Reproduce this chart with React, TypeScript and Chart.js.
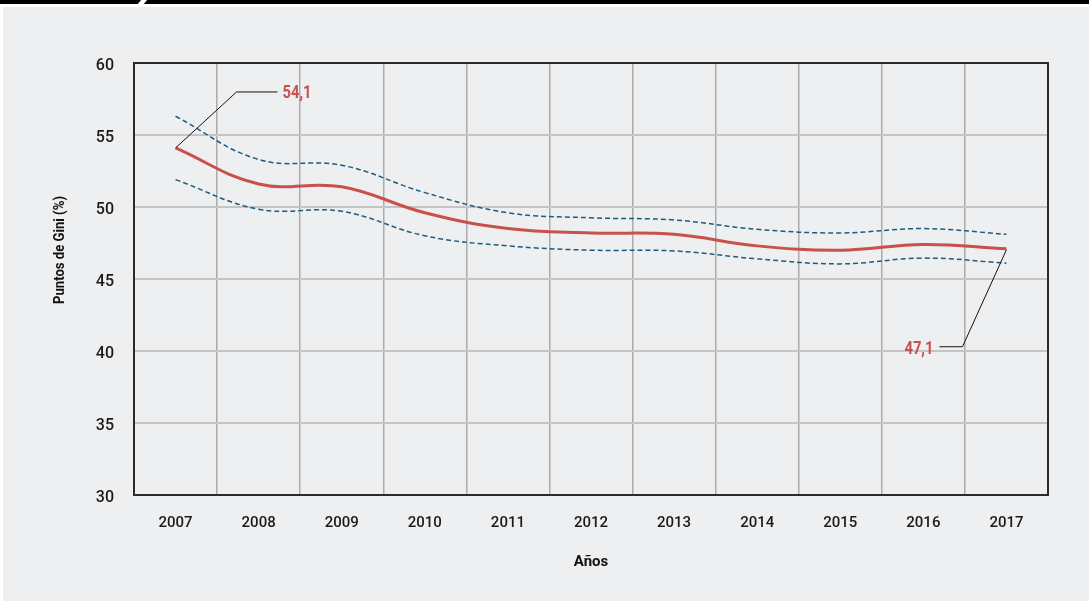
import React, { useEffect, useRef } from "react";
import { Chart, registerables } from "chart.js";

Chart.register(...registerables);

const years = ["2007", "2008", "2009", "2010", "2011", "2012", "2013", "2014", "2015", "2016", "2017"];
const gini = [54.1, 51.6, 51.4, 49.6, 48.5, 48.2, 48.1, 47.3, 47.0, 47.4, 47.1];
const upperBound = [56.3, 53.3, 52.9, 51.0, 49.6, 49.25, 49.1, 48.45, 48.2, 48.5, 48.1];
const lowerBound = [51.9, 49.85, 49.7, 48.0, 47.3, 47.0, 46.95, 46.4, 46.05, 46.45, 46.1];
const yTitle = "Puntos de Gini (%)";
const xTitle = "Años";

const FONT = 'Roboto, "DejaVu Sans Condensed", sans-serif';
const RED = "#c9514c";
const BLUE = "#1d5c7e";

const fmt = (v: number) => v.toFixed(1).replace(".", ",");

const decorPlugin = {
  id: "decor",
  afterDatasetsDraw(chart: any) {
    const { ctx, chartArea } = chart;
    ctx.save();
    // frame
    ctx.strokeStyle = "#2b2b2b";
    ctx.lineWidth = 2;
    ctx.strokeRect(chartArea.left, chartArea.top, chartArea.right - chartArea.left, chartArea.bottom - chartArea.top);

    // y title
    ctx.save();
    ctx.translate(60, 250);
    ctx.rotate(-Math.PI / 2);
    ctx.font = `bold 15px ${FONT}`;
    const w = ctx.measureText(yTitle).width;
    ctx.scale(Math.min(1, 108 / w), 1);
    ctx.fillStyle = "#111";
    ctx.textAlign = "center";
    ctx.textBaseline = "middle";
    ctx.fillText(yTitle, 0, 0);
    ctx.restore();

    // annotations
    const meta = chart.getDatasetMeta(0);
    const first = meta.data[0];
    const last = meta.data[meta.data.length - 1];
    ctx.strokeStyle = "#111";
    ctx.lineWidth = 1;

    const drawLabel = (text: string, x: number, y: number, align: string) => {
      ctx.save();
      ctx.translate(x, y);
      ctx.scale(0.82, 1);
      ctx.font = `bold 18px ${FONT}`;
      ctx.fillStyle = RED;
      ctx.textBaseline = "middle";
      ctx.textAlign = align;
      ctx.fillText(text, 0, 0);
      ctx.restore();
    };

    // first
    {
      const ex = first.x + 61, ey = first.y - 56;
      ctx.beginPath();
      ctx.moveTo(first.x, first.y);
      ctx.lineTo(ex, ey);
      ctx.lineTo(ex + 41, ey);
      ctx.stroke();
      drawLabel(fmt(gini[0]), ex + 46, ey + 2, "left");
    }
    // last
    {
      const ex = last.x - 44, ey = last.y + 98;
      ctx.beginPath();
      ctx.moveTo(last.x, last.y + 1);
      ctx.lineTo(ex, ey);
      ctx.lineTo(ex - 23, ey);
      ctx.stroke();
      drawLabel(fmt(gini[gini.length - 1]), ex - 29, ey + 3, "right");
    }
    ctx.restore();
  },
};

export default function App() {
  const ref = useRef<HTMLCanvasElement>(null);
  useEffect(() => {
    if (!ref.current) return;
    const chart = new Chart(ref.current, {
      type: "line",
      data: {
        labels: years,
        datasets: [
          {
            data: gini,
            borderColor: RED,
            borderWidth: 3,
            pointRadius: 0,
            tension: 0.4,
            fill: false,
          },
          {
            data: upperBound,
            borderColor: BLUE,
            borderWidth: 1.5,
            borderDash: [5, 3],
            pointRadius: 0,
            tension: 0.4,
            fill: false,
          },
          {
            data: lowerBound,
            borderColor: BLUE,
            borderWidth: 1.5,
            borderDash: [5, 3],
            pointRadius: 0,
            tension: 0.4,
            fill: false,
          },
        ],
      },
      options: {
        animation: false,
        responsive: false,
        devicePixelRatio: 1,
        layout: { padding: { left: 0, top: 63, right: 41, bottom: 0 } },
        plugins: { legend: { display: false }, tooltip: { enabled: false } },
        scales: {
          x: {
            type: "category",
            offset: true,
            grid: { offset: true, color: "#ababab", lineWidth: 1.5, drawTicks: false },
            border: { display: false },
            ticks: { font: { family: FONT, size: 15, weight: 500 }, color: "#1a1a1a", padding: 19, maxRotation: 0, autoSkip: false },
            title: {
              display: true,
              text: xTitle,
              font: { family: FONT, size: 15, weight: "bold" },
              color: "#111",
              padding: { top: 0, bottom: 33 },
            },
            afterFit: (scale: any) => {
              scale.height = 109;
            },
          },
          y: {
            min: 30,
            max: 60,
            ticks: { stepSize: 5, font: { family: FONT, size: 16, weight: 500 }, color: "#1a1a1a", padding: 20, labelOffset: 3 },
            grid: { color: "#c4c4c4", lineWidth: 2, drawTicks: false },
            border: { display: false },
            afterFit: (scale: any) => {
              scale.width = 134;
            },
          },
        },
      },
      plugins: [decorPlugin],
    } as any);
    return () => chart.destroy();
  }, []);

  return (
    <div style={{ position: "fixed", left: 0, top: 0, width: 1089, height: 604, background: "#fff", overflow: "hidden" }}>
      <div style={{ position: "absolute", left: 0, top: 0, width: 1089, height: 4, background: "#000" }} />
      <div style={{ position: "absolute", left: 139, top: 0, width: 6, height: 5, background: "#fff", transform: "skewX(-40deg)" }} />
      <div style={{ position: "absolute", left: 3, top: 7, width: 1086, height: 594, background: "#eeeff1" }} />
      <canvas ref={ref} width={1089} height={604} style={{ position: "absolute", left: 0, top: 0, width: 1089, height: 604 }} />
    </div>
  );
}
